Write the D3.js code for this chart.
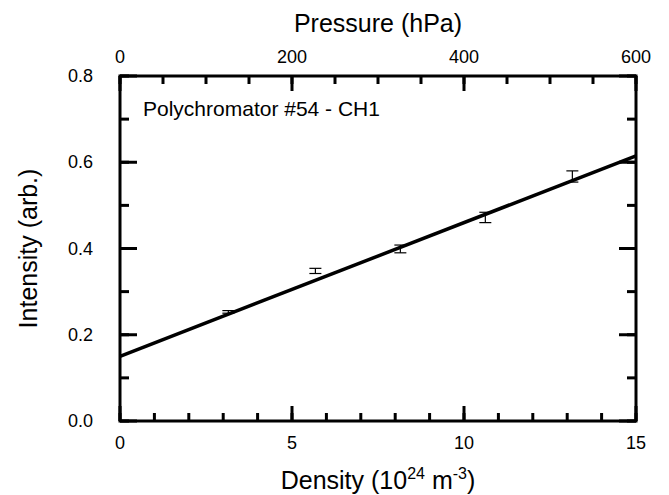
<!DOCTYPE html>
<html>
<head>
<meta charset="utf-8">
<script src="https://cdn.jsdelivr.net/npm/d3@7"></script>
<style>
  body { margin: 0; background: #fff; }
  svg { display: block; font-family: "Liberation Sans", Arial, sans-serif; }
</style>
</head>
<body>
<svg width="669" height="495"></svg>
<script>
// measured points (density 1e24 m^-3, intensity arb., error)
var density   = [3.15, 5.68, 8.15, 10.62, 13.15];
var intensity = [0.253, 0.348, 0.399, 0.472, 0.567];
var errors    = [0.003, 0.006, 0.009, 0.012, 0.013];
// linear fit endpoints
var fitX = [0, 15];
var fitY = [0.150, 0.615];

var xTicks = [0, 5, 10, 15];
var pTicks = [0, 200, 400, 600];
var yTicks = [0.0, 0.2, 0.4, 0.6, 0.8];

var svg = d3.select("svg");
var pl = 120, pr = 636, pt = 76, pb = 421;

var x = d3.scaleLinear().domain([0, 15]).range([pl, pr]);
var p = d3.scaleLinear().domain([0, 600]).range([pl, pr]);
var y = d3.scaleLinear().domain([0, 0.8]).range([pb, pt]);

function tickLines(g, vals, isX, len, side) {
  g.selectAll("line").data(vals).enter().append("line")
    .attr("x1", function(d){ return isX ? d : (side < 0 ? pl : pr) })
    .attr("x2", function(d){ return isX ? d : (side < 0 ? pl + len : pr - len) })
    .attr("y1", function(d){ return isX ? (side < 0 ? pb : pt) : d })
    .attr("y2", function(d){ return isX ? (side < 0 ? pb - len : pt + len) : d })
    .attr("stroke", "#000").attr("stroke-width", 3);
}

var ticks = svg.append("g");
// bottom
tickLines(ticks.append("g"), d3.range(0, 16, 1).map(x), true, 8, -1);
tickLines(ticks.append("g"), xTicks.map(x), true, 15, -1);
// top (pressure)
tickLines(ticks.append("g"), d3.range(0, 601, 50).map(p), true, 8, 1);
tickLines(ticks.append("g"), pTicks.map(p), true, 15, 1);
// left / right
tickLines(ticks.append("g"), d3.range(0, 9).map(function(i){ return y(i / 10) }), false, 9, -1);
tickLines(ticks.append("g"), yTicks.map(y), false, 17, -1);
tickLines(ticks.append("g"), d3.range(0, 9).map(function(i){ return y(i / 10) }), false, 9, 1);
tickLines(ticks.append("g"), yTicks.map(y), false, 17, 1);

svg.append("rect")
  .attr("x", pl).attr("y", pt)
  .attr("width", pr - pl).attr("height", pb - pt)
  .attr("fill", "none").attr("stroke", "#000").attr("stroke-width", 3);

// tick labels
svg.append("g").selectAll("text").data(xTicks).enter().append("text")
  .attr("x", function(d){ return x(d) }).attr("y", pb + 28)
  .attr("text-anchor", "middle").attr("font-size", 18)
  .text(function(d){ return d });
svg.append("g").selectAll("text").data(pTicks).enter().append("text")
  .attr("x", function(d){ return p(d) }).attr("y", pt - 13)
  .attr("text-anchor", "middle").attr("font-size", 18)
  .text(function(d){ return d });
svg.append("g").selectAll("text").data(yTicks).enter().append("text")
  .attr("x", pl - 27).attr("y", function(d){ return y(d) + 6 })
  .attr("text-anchor", "end").attr("font-size", 18)
  .text(function(d){ return d.toFixed(1) });

// axis titles
svg.append("text").attr("x", (pl + pr) / 2).attr("y", 32)
  .attr("text-anchor", "middle").attr("font-size", 25).text("Pressure (hPa)");

var xt = svg.append("text").attr("x", (pl + pr) / 2).attr("y", 489)
  .attr("text-anchor", "middle").attr("font-size", 25);
xt.append("tspan").text("Density (10");
xt.append("tspan").attr("dy", -10).attr("font-size", 16).text("24");
xt.append("tspan").attr("dy", 10).text(" m");
xt.append("tspan").attr("dy", -10).attr("font-size", 16).text("-3");
xt.append("tspan").attr("dy", 10).text(")");

svg.append("text")
  .attr("transform", "translate(37," + ((pt + pb) / 2) + ") rotate(-90)")
  .attr("text-anchor", "middle").attr("font-size", 25).text("Intensity (arb.)");

svg.append("text").attr("x", 143).attr("y", 116)
  .attr("font-size", 21).text("Polychromator #54 - CH1");

// fit line
svg.append("line")
  .attr("x1", x(fitX[0])).attr("y1", y(fitY[0]))
  .attr("x2", x(fitX[1])).attr("y2", y(fitY[1]))
  .attr("stroke", "#000").attr("stroke-width", 3.5);

// error bars
var eb = svg.append("g").selectAll("g").data(density).enter().append("g");
eb.append("line")
  .attr("x1", function(d){ return x(d) }).attr("x2", function(d){ return x(d) })
  .attr("y1", function(d, i){ return y(intensity[i] - errors[i]) })
  .attr("y2", function(d, i){ return y(intensity[i] + errors[i]) })
  .attr("stroke", "#000").attr("stroke-width", 1.2);
[-1, 1].forEach(function(s) {
  eb.append("line")
    .attr("x1", function(d){ return x(d) - 6 }).attr("x2", function(d){ return x(d) + 6 })
    .attr("y1", function(d, i){ return y(intensity[i] + s * errors[i]) })
    .attr("y2", function(d, i){ return y(intensity[i] + s * errors[i]) })
    .attr("stroke", "#000").attr("stroke-width", 1.2);
});
</script>
</body>
</html>
